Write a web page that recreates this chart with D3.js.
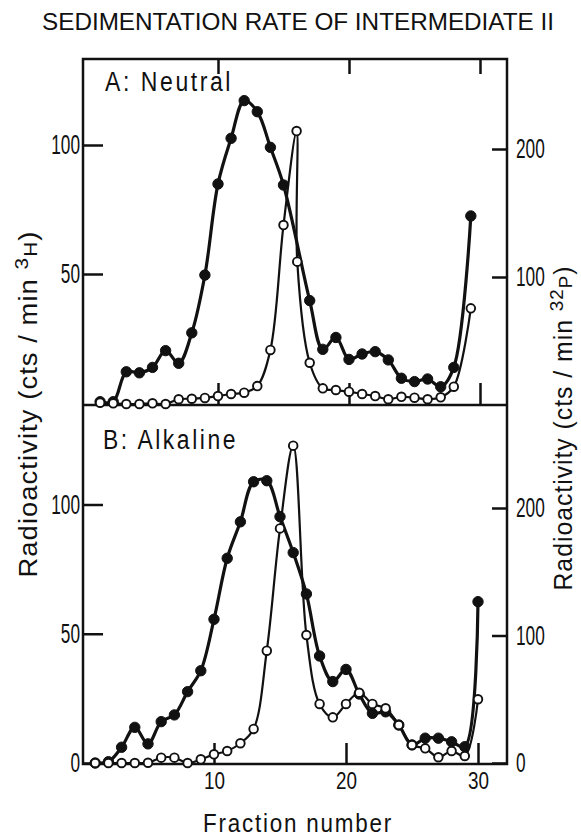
<!DOCTYPE html>
<html>
<head>
<meta charset="utf-8">
<script src="https://cdn.jsdelivr.net/npm/d3@7"></script>
<style>
  body { margin: 0; background: #fff; }
  svg { display: block; }
  text { font-family: "Liberation Sans", Arial, sans-serif; fill: #111; }
</style>
</head>
<body>
<div id="wrapper"></div>
<script>
// 1. DATA
// panel A: neutral
const fracA_H = [1,2,3,4,5,6,7,8,9,10,11,12,13,14,15,17,18,19,20,21,22,23,24,25,26,27,28,29.3]
const cpmA_H  = [0.5,0.5,12.1,11.7,13.8,20.3,15.4,27.2,49.6,84.9,102.6,117.2,112.9,99.1,84.5,39.7,20.8,25.4,16.9,19,19.9,16.7,9.6,8.3,9.3,6.3,13.8,72.5]
const fracA_P = [1,2,3,4,5,6,7,8,9,10,11,12,13,14,15,16,16.05,17,18,19,20,21,22,23,24,25,26,27,28,29.3]
const cpmA_P  = [1.8,1.3,0.8,0.8,1.3,0.8,4.5,4.9,5.5,7,8.6,9.6,14.8,43,140.6,214,112,33,13,11.7,10.4,8.6,7,4.5,6.4,5.7,4.5,6,14.3,75.5]
// panel B: alkaline
const fracB   = [1,2,3,4,5,6,7,8,9,10,11,12,13,14,15,16,17,18,19,20,21,22,23,24,25,26,27,28,29,30]
const cpmB_H  = [0,0.5,6.1,13.8,7.4,16,18.6,27.6,35.7,55.6,79.2,93.3,108.8,109.2,95.3,81.4,65.4,41.4,31.5,36.2,26.7,19.2,19.8,14.7,7,9.6,9.6,8.2,6.3,62.4]
const cpmB_P  = [0,0,0,0,0.2,4.2,4.2,0,2.9,6.8,9.4,15.5,26.7,88.1,184,248.9,100.4,46.3,35.8,46.3,55.1,46.3,42.9,29.8,14.1,11.5,4.5,9.4,5.5,50]

const xTicks = [10, 20, 30]
const ticksH = [50, 100]
const ticksP = [100, 200]

const zip = (xs, ys) => xs.map((x, i) => ({x, y: ys[i]}))

// 2. DIMENSIONS
const width = 581, height = 838
const frame = {left: 83, right: 507, top: 59, mid: 405, bottom: 764}

const wrapper = d3.select("#wrapper").append("svg")
  .attr("width", width)
  .attr("height", height)

// 3. SCALES (scan is slightly offset between the two panels)
const xA = d3.scaleLinear().domain([0, 32]).range([87, 506.2])
const xB = d3.scaleLinear().domain([0, 32]).range([82, 504.4])
const yA_H = d3.scaleLinear().domain([0, 100]).range([403, 145])
const yA_P = d3.scaleLinear().domain([0, 200]).range([405, 149])
const yB_H = d3.scaleLinear().domain([0, 100]).range([763, 504.5])
const yB_P = d3.scaleLinear().domain([0, 200]).range([763, 508])

const condense = (sel, perChar) => sel.each(function () {
  const t = d3.select(this)
  t.attr("textLength", t.text().length * perChar).attr("lengthAdjust", "spacingAndGlyphs")
})

// 4. FRAME
const fr = wrapper.append("g").attr("fill", "none").attr("stroke", "#111").attr("stroke-width", 2.5)
fr.append("rect")
  .attr("x", frame.left).attr("y", frame.top)
  .attr("width", frame.right - frame.left).attr("height", frame.bottom - frame.top)
fr.append("line")
  .attr("x1", frame.left).attr("x2", frame.right)
  .attr("y1", frame.mid).attr("y2", frame.mid)

// 5. AXES
const styleAxis = (g, perChar) => {
  g.select(".domain").remove()
  g.selectAll(".tick line").attr("stroke", "#111").attr("stroke-width", 2.5)
  g.selectAll(".tick text").style("font-size", "27px").style("font-family", "Liberation Sans, Arial, sans-serif").attr("fill", "#111")
  if (perChar) condense(g.selectAll(".tick text"), perChar)
}

wrapper.append("g").attr("transform", `translate(${frame.left},0)`)
  .call(d3.axisLeft(yA_H).tickValues(ticksH).tickSize(-20).tickPadding(3))
  .call(g => styleAxis(g, 9.6))
wrapper.append("g").attr("transform", `translate(${frame.left},0)`)
  .call(d3.axisLeft(yB_H).tickValues([0, ...ticksH]).tickSize(-20).tickPadding(3))
  .call(g => styleAxis(g, 9.6))
wrapper.append("g").attr("transform", `translate(${frame.right},0)`)
  .call(d3.axisRight(yA_P).tickValues(ticksP).tickSize(-15).tickPadding(9))
  .call(g => styleAxis(g, 9.6))
wrapper.append("g").attr("transform", `translate(${frame.right},0)`)
  .call(d3.axisRight(yB_P).tickValues([0, ...ticksP]).tickSize(-15).tickPadding(9))
  .call(g => styleAxis(g, 9.6))

wrapper.append("g").attr("transform", `translate(0,${frame.bottom})`)
  .call(d3.axisBottom(xB).tickValues(xTicks).tickSize(-21).tickPadding(9))
  .call(g => styleAxis(g, 10.5))
  .call(g => g.selectAll(".tick text").style("font-size", "23px"))
wrapper.append("g").attr("transform", `translate(0,${frame.mid})`)
  .call(d3.axisBottom(xA).tickValues(xTicks).tickSize(-22).tickFormat(""))
  .call(g => styleAxis(g))
wrapper.append("g").attr("transform", `translate(0,${frame.top})`)
  .call(d3.axisTop(xA).tickValues(xTicks).tickSize(-15).tickFormat(""))
  .call(g => styleAxis(g))

// 6. DATA
const drawSeries = (pts, xS, yS, filled) => {
  const line = d3.line()
    .x(d => xS(d.x)).y(d => yS(d.y))
    .curve(d3.curveCatmullRom.alpha(0.5))
  wrapper.append("path")
    .datum(pts)
    .attr("d", line)
    .attr("fill", "none")
    .attr("stroke", "#111")
    .attr("stroke-width", filled ? 3.2 : 2.2)
    .attr("stroke-linejoin", "round")
  return pts
}
const drawDots = (pts, xS, yS, filled) => {
  wrapper.append("g").selectAll("circle")
    .data(pts)
    .join("circle")
    .attr("cx", d => xS(d.x))
    .attr("cy", d => yS(d.y))
    .attr("r", filled ? 5.2 : 4.3)
    .attr("fill", filled ? "#111" : "#fff")
    .attr("stroke", "#111")
    .attr("stroke-width", filled ? 1 : 1.9)
}

const aH = zip(fracA_H, cpmA_H), aP = zip(fracA_P, cpmA_P)
const bH = zip(fracB, cpmB_H), bP = zip(fracB, cpmB_P)

drawSeries(aH, xA, yA_H, true)
drawSeries(aP, xA, yA_P, false)
drawSeries(bH, xB, yB_H, true)
drawSeries(bP, xB, yB_P, false)
drawDots(aH, xA, yA_H, true)
drawDots(bH, xB, yB_H, true)
drawDots(aP, xA, yA_P, false)
drawDots(bP, xB, yB_P, false)

// 7. LABELS
// letter-spacing + textLength squeezes the glyphs but keeps the airy spacing of the original lettering
const label = (x, y, size, spacing, len, txt) => wrapper.append("text")
  .attr("x", x).attr("y", y)
  .style("font-size", size + "px")
  .style("letter-spacing", spacing + "px")
  .attr("textLength", len).attr("lengthAdjust", "spacingAndGlyphs")
  .text(txt)

label(42, 30, 23.5, 0, 512, "SEDIMENTATION RATE OF INTERMEDIATE II")
label(105, 91, 27, 3, 128, "A:  Neutral")
label(103, 449, 27, 3, 135, "B:  Alkaline")
label(203, 832, 25, 2, 190, "Fraction number")

const yLabel = (x, y, len, sup, sub) => {
  const t = wrapper.append("text")
    .attr("transform", `translate(${x},${y}) rotate(-90)`)
    .attr("text-anchor", "middle")
    .style("font-size", "25px")
    .style("letter-spacing", "1px")
    .attr("textLength", len).attr("lengthAdjust", "spacingAndGlyphs")
  t.append("tspan").text("Radioactivity (cts / min ")
  t.append("tspan").attr("dy", -9).style("font-size", "19px").text(sup)
  t.append("tspan").attr("dy", 9).style("font-size", "19px").text(sub)
  t.append("tspan").text(")")
}
yLabel(37, 404, 347, "3", "H")
yLabel(572, 428, 325, "32", "P")
</script>
</body>
</html>
